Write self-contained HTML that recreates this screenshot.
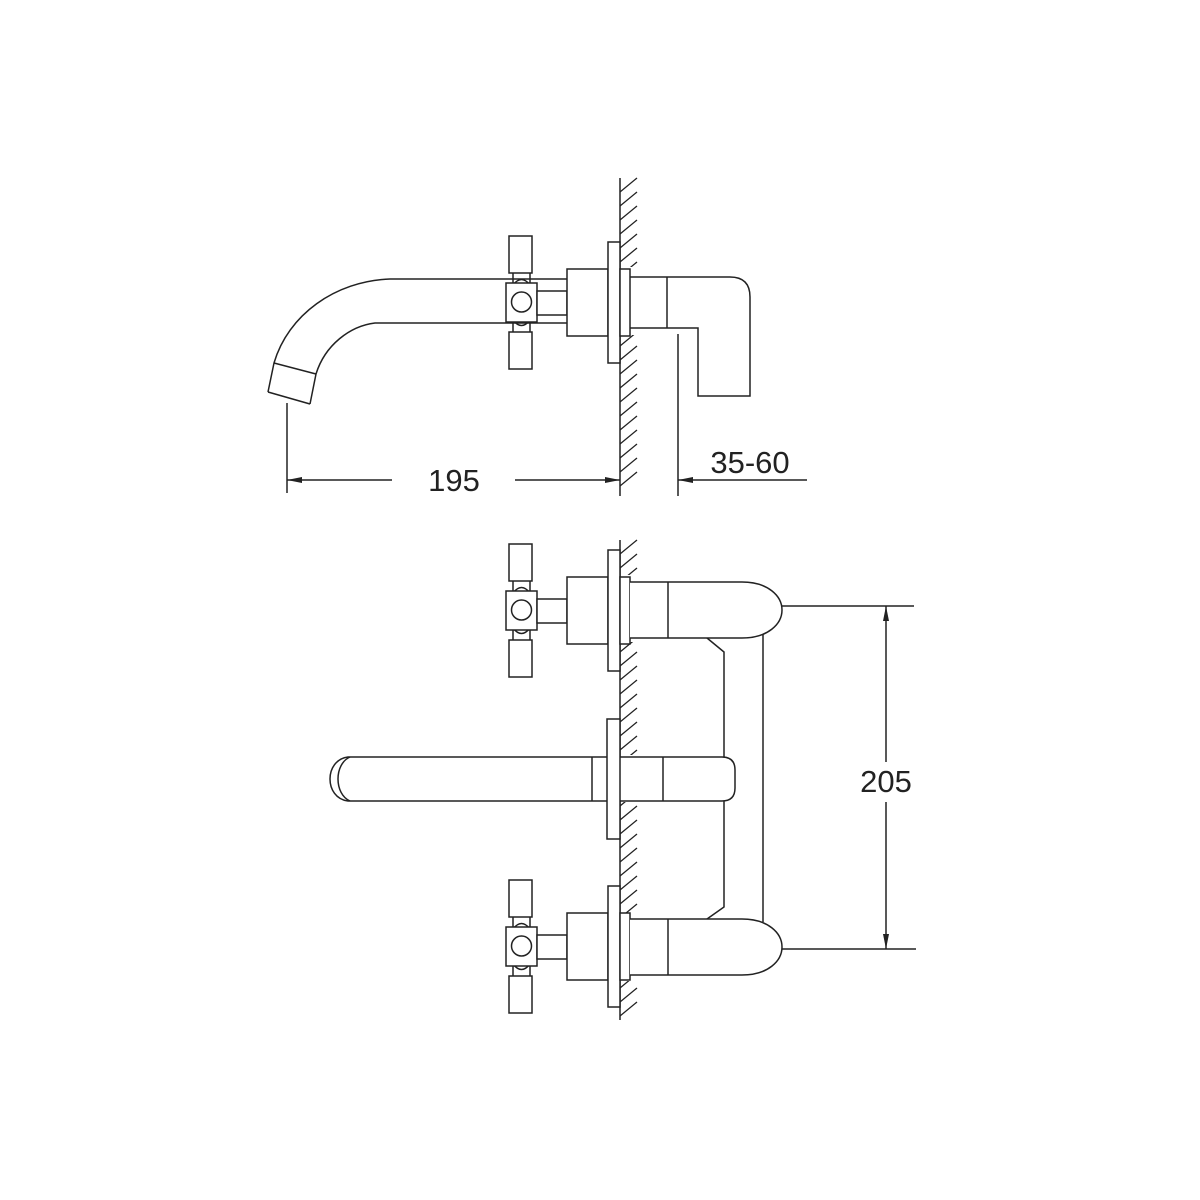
<!DOCTYPE html>
<html><head><meta charset="utf-8"><style>html,body{margin:0;padding:0;background:#fff}svg{display:block}</style></head>
<body>
<svg width="1200" height="1200" viewBox="0 0 1200 1200" xmlns="http://www.w3.org/2000/svg">
<defs>
<g id="hd" fill="#fff" stroke="#222" stroke-width="1.5">
<path d="M513,273 V285 M530,273 V285 M513,285 Q521.5,274 530,285" fill="none"/>
<path d="M513,320 V332 M530,320 V332 M513,320 Q521.5,331 530,320" fill="none"/>
<rect x="509" y="236" width="23" height="37"/>
<rect x="506" y="283" width="31" height="39"/>
<rect x="509" y="332" width="23" height="37"/>
<circle cx="521.5" cy="302" r="10"/>
<rect x="537" y="291" width="30" height="24"/>
<rect x="567" y="269" width="41" height="67"/>
<rect x="608" y="242" width="12" height="121"/>
<rect x="620" y="269" width="10" height="67"/>
</g>
<g id="lv" fill="#fff" stroke="#222" stroke-width="1.5">
<path d="M630,274 H742 C768,274 782,288 782,302 C782,316 768,330 742,330 H630"/>
<line x1="668" y1="274" x2="668" y2="330"/>
</g>
</defs>
<rect width="1200" height="1200" fill="#fff"/>
<path stroke="#222" stroke-width="1.3" fill="none" d="
M620,192 l17,-14 M620,206 l17,-14 M620,220 l17,-14 M620,234 l17,-14 M620,248 l17,-14 M620,262 l17,-14 M620,276 l17,-14 M620,290 l17,-14 M620,304 l17,-14 M620,318 l17,-14 M620,332 l17,-14 M620,346 l17,-14 M620,360 l17,-14 M620,374 l17,-14 M620,388 l17,-14 M620,402 l17,-14 M620,416 l17,-14 M620,430 l17,-14 M620,444 l17,-14 M620,458 l17,-14 M620,472 l17,-14 M620,486 l17,-14
M620,554 l17,-14 M620,568 l17,-14 M620,582 l17,-14 M620,596 l17,-14 M620,610 l17,-14 M620,624 l17,-14 M620,638 l17,-14 M620,652 l17,-14 M620,666 l17,-14 M620,680 l17,-14 M620,694 l17,-14 M620,708 l17,-14 M620,722 l17,-14 M620,736 l17,-14 M620,750 l17,-14 M620,764 l17,-14 M620,778 l17,-14 M620,792 l17,-14 M620,806 l17,-14 M620,820 l17,-14 M620,834 l17,-14 M620,848 l17,-14 M620,862 l17,-14 M620,876 l17,-14 M620,890 l17,-14 M620,904 l17,-14 M620,918 l17,-14 M620,932 l17,-14 M620,946 l17,-14 M620,960 l17,-14 M620,974 l17,-14 M620,988 l17,-14 M620,1002 l17,-14 M620,1016 l17,-14"/>
<rect x="619" y="267" width="20" height="68" fill="#fff"/>
<rect x="619" y="575" width="20" height="67" fill="#fff"/>
<rect x="619" y="755" width="20" height="47" fill="#fff"/>
<rect x="619" y="913" width="20" height="68" fill="#fff"/>
<g stroke="#222" stroke-width="1.5" fill="none">
<line x1="620" y1="178" x2="620" y2="496"/>
<line x1="620" y1="540" x2="620" y2="1020"/>
<path d="M567,279 H390 C335,281 288,315 274,363 L268,392"/>
<path d="M567,323 H375 C350,326 325,345 316,374 L310,404"/>
<line x1="274" y1="363" x2="316" y2="374"/>
<line x1="268" y1="392" x2="310" y2="404"/>
<path d="M630,277 H730 Q750,277 750,297 V396 H698 V328 H630"/>
<line x1="667" y1="277" x2="667" y2="328"/>
<line x1="678" y1="334" x2="678" y2="496"/>
<line x1="287" y1="403" x2="287" y2="493"/>
<line x1="287" y1="480" x2="392" y2="480"/>
<line x1="515" y1="480" x2="620" y2="480"/>
<line x1="678" y1="480" x2="807" y2="480"/>
<path d="M707,638 L724,652 V757"/>
<path d="M724,801 V907 L707,919"/>
<line x1="763" y1="633" x2="763" y2="922"/>
<line x1="762" y1="606" x2="914" y2="606"/>
<line x1="764" y1="949" x2="916" y2="949"/>
<line x1="886" y1="606" x2="886" y2="762"/>
<line x1="886" y1="802" x2="886" y2="949"/>
</g>
<g fill="#222">
<path d="M287,480 l15,-3 v6 z"/>
<path d="M620,480 l-15,-3 v6 z"/>
<path d="M678,480 l15,-3 v6 z"/>
<path d="M886,606 l-3,15 h6 z"/>
<path d="M886,949 l-3,-15 h6 z"/>
</g>
<use href="#hd"/>
<use href="#hd" transform="translate(0,308)"/>
<use href="#hd" transform="translate(0,644)"/>
<use href="#lv" transform="translate(0,308)"/>
<use href="#lv" transform="translate(0,645)"/>
<g fill="#fff" stroke="#222" stroke-width="1.5">
<path d="M620,757 H722 Q735,757 735,770 V788 Q735,801 722,801 H620"/>
<line x1="663" y1="757" x2="663" y2="801"/>
<path d="M607,757 H348 C324,760 324,798 348,801 H607"/>
<path d="M350,757 C334,764 334,794 350,801" fill="none"/>
<line x1="592" y1="757" x2="592" y2="801"/>
<rect x="607" y="719" width="13" height="120"/>
</g>
<g font-family="Liberation Sans, sans-serif" font-size="31" fill="#222">
<text x="454" y="491" text-anchor="middle">195</text>
<text x="750" y="473" text-anchor="middle">35-60</text>
<text x="886" y="792" text-anchor="middle">205</text>
</g>
</svg>
</body></html>
